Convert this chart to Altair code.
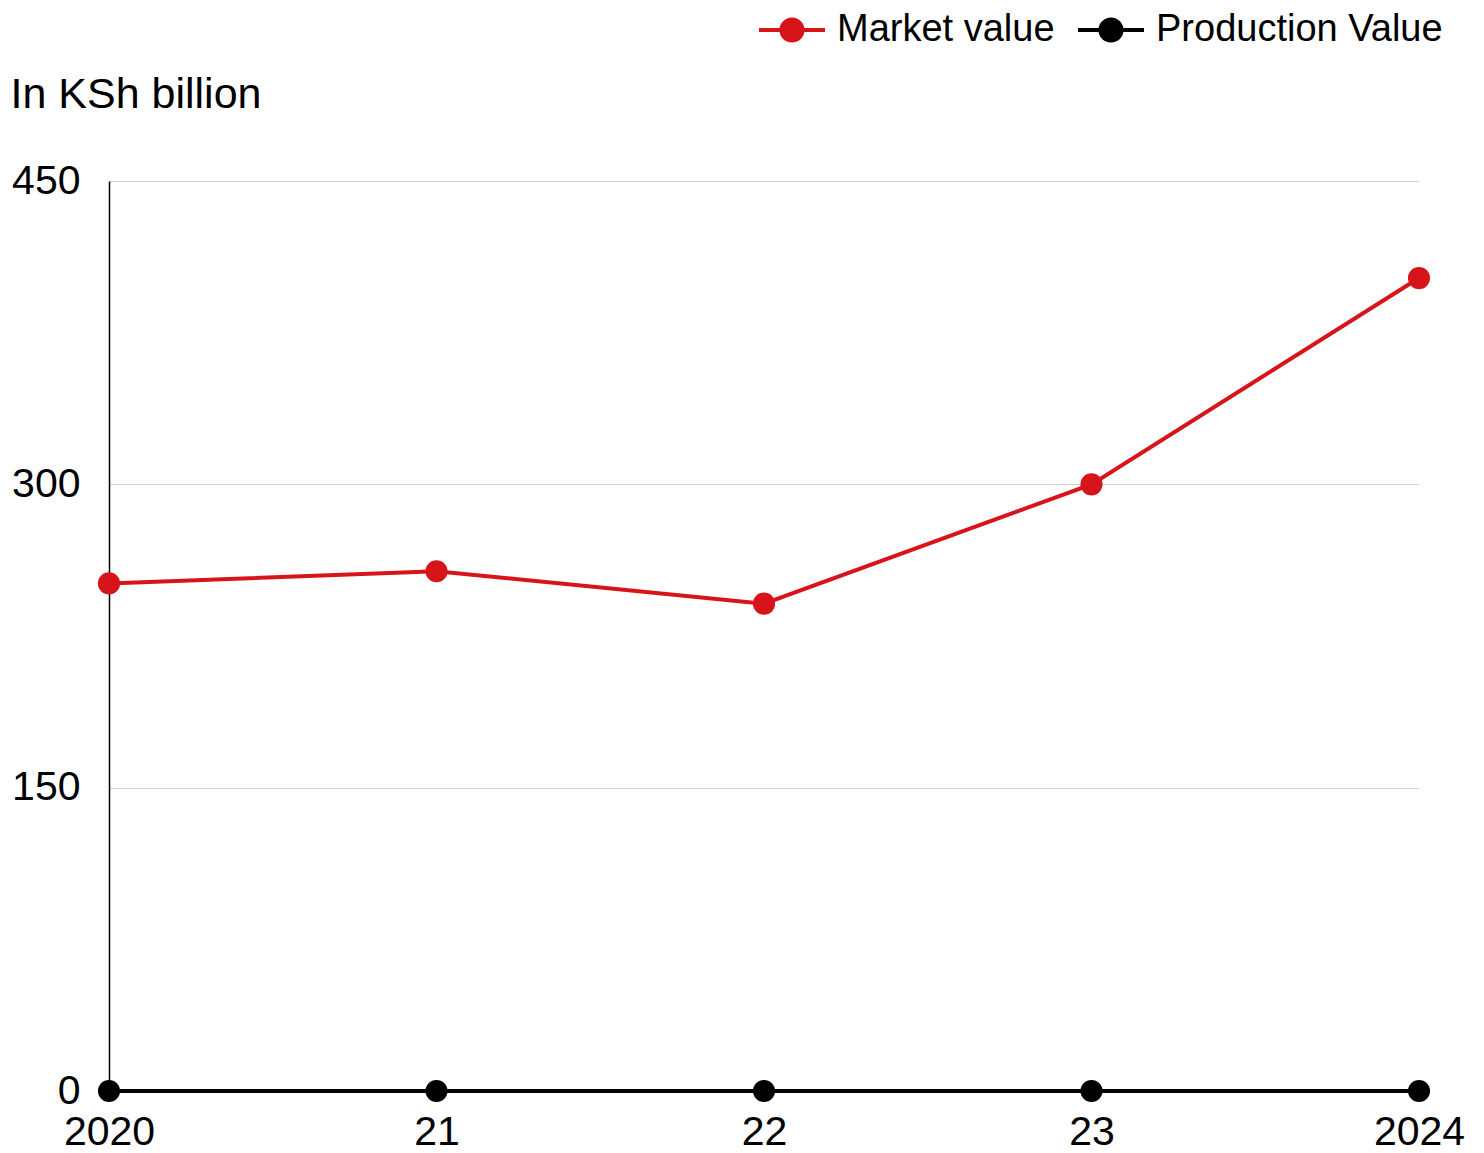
import altair as alt
import pandas as pd

years = ["2020", "21", "22", "23", "2024"]
market_value = [251, 257, 241, 300, 402]
production_value = [0, 0, 0, 0, 0]
series_names = ["Market value", "Production Value"]
series_colors = ["#d7141a", "#000000"]

rows = []
for y, v in zip(years, market_value):
    rows.append({"year": y, "value": v, "series": series_names[0]})
for y, v in zip(years, production_value):
    rows.append({"year": y, "value": v, "series": series_names[1]})
df = pd.DataFrame(rows)

FONT = "Liberation Sans"

# legend glyph: short line with a dot, drawn larger than its nominal box
legend_path = ("M-2.2,-0.13 L-0.66,-0.13 L-0.66,0.13 L-2.2,0.13 Z "
               "M0.66,-0.13 L2.2,-0.13 L2.2,0.13 L0.66,0.13 Z "
               "M-0.84,0 A0.84,0.84 0 1,1 0.84,0 A0.84,0.84 0 1,1 -0.84,0 Z")

x_enc = alt.X("year:O", sort=years, scale=alt.Scale(type="point", padding=0),
              axis=alt.Axis(title=None, labelAngle=0, domain=False, ticks=False,
                            labelFontSize=41, labelFont=FONT, labelColor="#000",
                            labelPadding=21, grid=False))
y_enc = alt.Y("value:Q", scale=alt.Scale(domain=[0, 450], nice=False),
              axis=alt.Axis(values=[0, 150, 300, 450], title="In KSh billion",
                            titleAngle=0, titleAlign="left", titleBaseline="alphabetic",
                            titleX=-99, titleY=-74, titleFontSize=43, titleFont=FONT,
                            titleFontWeight="normal", titleColor="#000",
                            labelFontSize=41, labelFont=FONT, labelColor="#000",
                            labelPadding=29, ticks=False, tickSize=0,
                            domain=True, domainColor="#000", domainWidth=1.5,
                            grid=True, gridColor="#d0d0d0", gridWidth=1))
color_scale = alt.Scale(domain=series_names, range=series_colors)
legend = alt.Legend(title=None, orient="none", direction="horizontal",
                    legendX=664, legendY=-170,
                    symbolType=legend_path, symbolSize=900,
                    symbolStrokeWidth=0, symbolOpacity=1,
                    labelFontSize=38, labelFont=FONT, labelColor="#000",
                    labelOffset=26, columnPadding=23, labelLimit=600)

lines = alt.Chart(df).mark_line(strokeWidth=4).encode(
    x=x_enc, y=y_enc,
    color=alt.Color("series:N", scale=color_scale, legend=legend),
    detail="series:N",
)
points = alt.Chart(df).mark_point(filled=True, size=490, opacity=1).encode(
    x=x_enc, y=y_enc,
    color=alt.Color("series:N", scale=color_scale, legend=legend),
)

chart = alt.layer(lines, points).properties(
    width=1310, height=910,
    background="white",
    autosize=alt.AutoSizeParams(type="none"),
    padding={"left": 101, "top": 173, "right": 55, "bottom": 62},
).configure_view(stroke="transparent", strokeWidth=0)

chart.save("out.html", embed_options={"renderer": "svg", "actions": False})
